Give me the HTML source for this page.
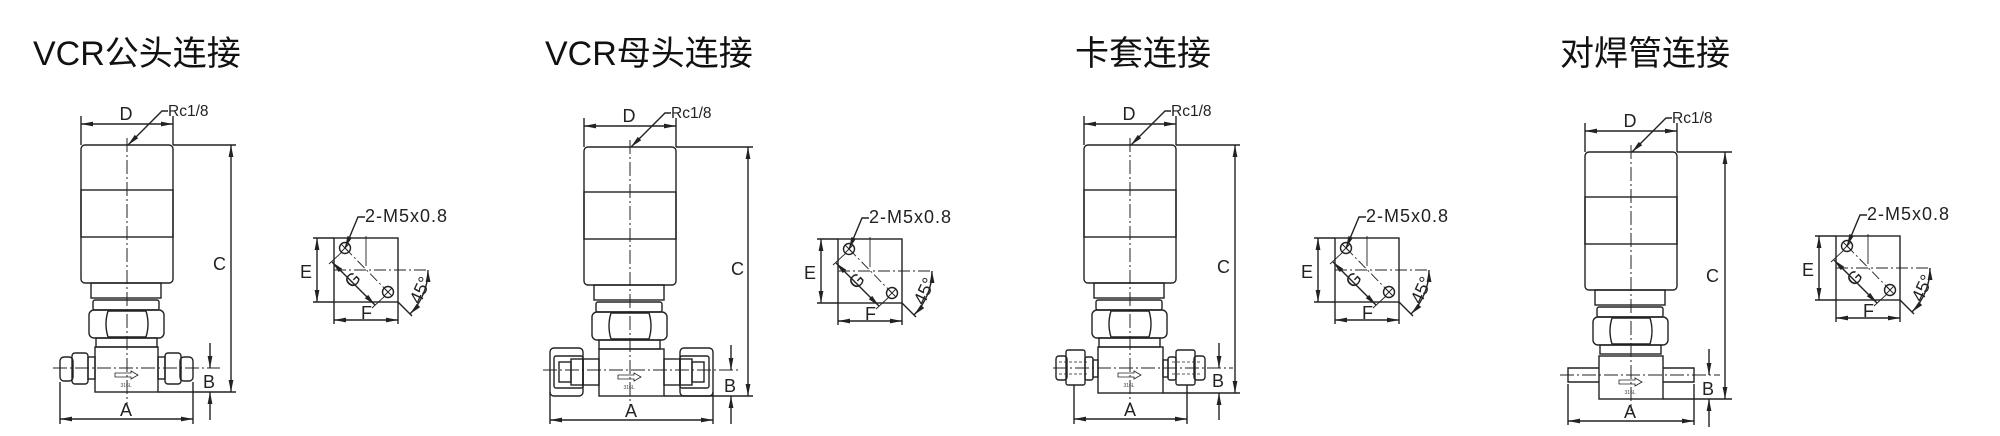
<!DOCTYPE html>
<html><head><meta charset="utf-8"><style>
html,body{margin:0;padding:0;background:#fff;}
svg{display:block;}
.t{font-family:"Liberation Sans","Noto Sans CJK SC",sans-serif;font-size:34px;fill:#111;}
.l{font-family:"Liberation Sans",sans-serif;font-size:18px;fill:#222;}
.m{font-family:"Liberation Sans",sans-serif;font-size:18px;fill:#222;letter-spacing:1px;}
.s{font-family:"Liberation Sans",sans-serif;font-size:15.5px;fill:#222;}
</style></head><body>
<svg width="2000" height="436" viewBox="0 0 2000 436" xmlns="http://www.w3.org/2000/svg">
<defs>
<marker id="ar" viewBox="0 0 12 6" refX="12" refY="3" markerWidth="13" markerHeight="6" markerUnits="userSpaceOnUse" orient="auto-start-reverse"><path d="M0 0.6 L12 3 L0 5.4 z" fill="#222"/></marker>
<g id="valve" fill="none" stroke="#222" stroke-width="1.4">
 <line x1="81" y1="116" x2="81" y2="145"/>
 <line x1="173" y1="116" x2="173" y2="145"/>
 <line x1="81" y1="124" x2="173" y2="124" marker-start="url(#ar)" marker-end="url(#ar)"/>
 <polyline points="128,145 162,111 168,111" marker-start="url(#ar)"/>
 <rect x="81" y="145" width="92" height="138" rx="4"/>
 <rect x="81" y="190" width="92" height="47"/>
 <rect x="91" y="283" width="70" height="15"/>
 <rect x="93" y="300" width="66" height="10" rx="2"/>
 <rect x="89" y="310" width="75" height="28" rx="5"/>
 <path d="M108 311 q-4 13 0 26 M146 311 q4 13 0 26 M108 311 h38 M108 337 h38"/>
 <rect x="96" y="338" width="61" height="9"/>
 <line x1="127" y1="138" x2="127" y2="404" stroke-width="1" stroke-dasharray="14 3 2 3"/>
 <path d="M115 373 h16 v-2 l7 4 l-7 4 v-2 h-16 z" stroke-width="0.8"/>
</g>
<g id="side" fill="none" stroke="#222" stroke-width="1.4">
 <rect x="334" y="238" width="64" height="64"/>
 <line x1="366" y1="236" x2="366" y2="266" stroke-width="0.9"/>
 <line x1="334" y1="270" x2="429" y2="270" stroke-width="0.9" stroke-dasharray="12 3 2 3"/>
 <circle cx="345" cy="248" r="5.5"/><path d="M341 244 l8 8 M349 244 l-8 8" stroke-width="0.9"/>
 <circle cx="388" cy="292" r="5.5"/><path d="M384 288 l8 8 M392 288 l-8 8" stroke-width="0.9"/>
 <line x1="345" y1="248" x2="388" y2="292" stroke-width="0.9" stroke-dasharray="10 3 2 3"/>
 <line x1="342" y1="252" x2="329" y2="264" stroke-width="0.9"/>
 <line x1="385" y1="296" x2="372" y2="308" stroke-width="0.9"/>
 <line x1="332" y1="262" x2="375" y2="305" marker-start="url(#ar)" marker-end="url(#ar)"/>
 <line x1="313" y1="238" x2="334" y2="238"/><line x1="313" y1="302" x2="334" y2="302"/>
 <line x1="317" y1="238" x2="317" y2="302" marker-start="url(#ar)" marker-end="url(#ar)"/>
 <line x1="334" y1="302" x2="334" y2="324"/><line x1="398" y1="302" x2="398" y2="324"/>
 <line x1="334" y1="320" x2="398" y2="320" marker-start="url(#ar)" marker-end="url(#ar)"/>
 <line x1="398" y1="302" x2="412" y2="316"/>
 <path d="M428 270 A62 62 0 0 1 410 314" marker-start="url(#ar)" marker-end="url(#ar)"/>
 <polyline points="345,248 358,217 365,217" marker-start="url(#ar)"/>
</g>
</defs>

<text class="t" x="33" y="65">VCR公头连接</text>
<text class="t" x="545" y="65">VCR母头连接</text>
<text class="t" x="1075" y="65">卡套连接</text>
<text class="t" x="1560" y="65">对焊管连接</text>

<g><use href="#side"/><text class="m" x="365" y="222">2-M5x0.8</text><text class="l" x="300" y="278">E</text><text class="l" x="361" y="319">F</text><text class="l" transform="translate(352,289) rotate(-45)">G</text><text class="l" transform="translate(420,305) rotate(-65)">45°</text></g>
<g transform="translate(504,1)"><use href="#side"/><text class="m" x="365" y="222">2-M5x0.8</text><text class="l" x="300" y="278">E</text><text class="l" x="361" y="319">F</text><text class="l" transform="translate(352,289) rotate(-45)">G</text><text class="l" transform="translate(420,305) rotate(-65)">45°</text></g>
<g transform="translate(1001,0)"><use href="#side"/><text class="m" x="365" y="222">2-M5x0.8</text><text class="l" x="300" y="278">E</text><text class="l" x="361" y="319">F</text><text class="l" transform="translate(352,289) rotate(-45)">G</text><text class="l" transform="translate(420,305) rotate(-65)">45°</text></g>
<g transform="translate(1502,-2)"><use href="#side"/><text class="m" x="365" y="222">2-M5x0.8</text><text class="l" x="300" y="278">E</text><text class="l" x="361" y="319">F</text><text class="l" transform="translate(352,289) rotate(-45)">G</text><text class="l" transform="translate(420,305) rotate(-65)">45°</text></g>

<g>
 <use href="#valve"/>
 <g fill="none" stroke="#222" stroke-width="1.4">
  <rect x="95" y="347" width="63" height="45"/>
  <rect x="60" y="357" width="13" height="24" rx="4"/><rect x="72" y="353" width="16" height="31" rx="3"/><rect x="88" y="357" width="7" height="22"/>
  <rect x="180" y="357" width="13" height="24" rx="4"/><rect x="165" y="353" width="16" height="31" rx="3"/><rect x="158" y="357" width="7" height="22"/>
  <line x1="53" y1="368" x2="220" y2="368" stroke-width="1" stroke-dasharray="14 3 2 3"/>
  <line x1="173" y1="145" x2="236" y2="145"/><line x1="158" y1="392" x2="236" y2="392"/>
  <line x1="231" y1="145" x2="231" y2="392" marker-start="url(#ar)" marker-end="url(#ar)"/>
  <line x1="210" y1="343" x2="210" y2="368" marker-end="url(#ar)"/>
  <line x1="210" y1="420" x2="210" y2="392" marker-end="url(#ar)"/>
  <line x1="60" y1="382" x2="60" y2="424"/><line x1="193" y1="382" x2="193" y2="424"/>
  <line x1="60" y1="419" x2="193" y2="419" marker-start="url(#ar)" marker-end="url(#ar)"/>
 </g>
 <text class="l" x="126" y="120" text-anchor="middle">D</text><text class="s" x="168" y="116">Rc1/8</text>
 <text class="l" x="213" y="270">C</text><text class="l" x="203" y="388">B</text><text class="l" x="120" y="416">A</text>
 <text x="126" y="387" font-size="5" font-family="Liberation Sans" text-anchor="middle" fill="#444">316L</text>
</g>

<g transform="translate(503,2)">
 <use href="#valve"/>
 <g fill="none" stroke="#222" stroke-width="1.4">
  <rect x="96" y="347" width="65" height="47"/>
  <rect x="47" y="346" width="33" height="48" rx="4"/><rect x="51" y="354" width="29" height="32" rx="2"/><rect x="56" y="360" width="12" height="20"/><rect x="68" y="357" width="12" height="26"/><rect x="80" y="357" width="16" height="26"/>
  <rect x="177" y="346" width="33" height="48" rx="4"/><rect x="177" y="354" width="29" height="32" rx="2"/><rect x="189" y="360" width="12" height="20"/><rect x="177" y="357" width="12" height="26"/><rect x="161" y="357" width="16" height="26"/>
  <line x1="40" y1="368" x2="238" y2="368" stroke-width="1" stroke-dasharray="14 3 2 3"/>
  <line x1="173" y1="145" x2="250" y2="145"/><line x1="161" y1="394" x2="250" y2="394"/>
  <line x1="245" y1="145" x2="245" y2="394" marker-start="url(#ar)" marker-end="url(#ar)"/>
  <line x1="228" y1="343" x2="228" y2="368" marker-end="url(#ar)"/>
  <line x1="228" y1="422" x2="228" y2="394" marker-end="url(#ar)"/>
  <line x1="47" y1="390" x2="47" y2="422"/><line x1="210" y1="390" x2="210" y2="422"/>
  <line x1="47" y1="418" x2="210" y2="418" marker-start="url(#ar)" marker-end="url(#ar)"/>
 </g>
 <text class="l" x="126" y="120" text-anchor="middle">D</text><text class="s" x="168" y="116">Rc1/8</text>
 <text class="l" x="228" y="273">C</text><text class="l" x="221" y="390">B</text><text class="l" x="122" y="415">A</text>
 <text x="126" y="387" font-size="5" font-family="Liberation Sans" text-anchor="middle" fill="#444">316L</text>
</g>

<g transform="translate(1003,0)">
 <use href="#valve"/>
 <g fill="none" stroke="#222" stroke-width="1.4">
  <rect x="95" y="347" width="65" height="46"/>
  <rect x="53" y="356" width="11" height="24" rx="3"/><rect x="63" y="350" width="19" height="35" rx="2"/><rect x="82" y="357" width="8" height="23" rx="2"/><rect x="90" y="360" width="5" height="17"/>
  <rect x="191" y="356" width="11" height="24" rx="3"/><rect x="173" y="350" width="19" height="35" rx="2"/><rect x="165" y="357" width="8" height="23" rx="2"/><rect x="160" y="360" width="5" height="17"/>
  <path d="M56 362 h30 M56 374 h30 M169 362 h30 M169 374 h30" stroke-width="0.8" stroke-dasharray="3 2"/>
  <line x1="50" y1="368" x2="230" y2="368" stroke-width="1" stroke-dasharray="14 3 2 3"/>
  <line x1="173" y1="145" x2="237" y2="145"/><line x1="160" y1="393" x2="237" y2="393"/>
  <line x1="232" y1="145" x2="232" y2="393" marker-start="url(#ar)" marker-end="url(#ar)"/>
  <line x1="216" y1="343" x2="216" y2="368" marker-end="url(#ar)"/>
  <line x1="216" y1="420" x2="216" y2="393" marker-end="url(#ar)"/>
  <line x1="71" y1="385" x2="71" y2="424"/><line x1="184" y1="385" x2="184" y2="424"/>
  <line x1="71" y1="419" x2="184" y2="419" marker-start="url(#ar)" marker-end="url(#ar)"/>
 </g>
 <text class="l" x="126" y="120" text-anchor="middle">D</text><text class="s" x="168" y="116">Rc1/8</text>
 <text class="l" x="214" y="273">C</text><text class="l" x="209" y="387">B</text><text class="l" x="121" y="416">A</text>
 <text x="126" y="387" font-size="5" font-family="Liberation Sans" text-anchor="middle" fill="#444">316L</text>
</g>

<g transform="translate(1504,7)">
 <use href="#valve"/>
 <g fill="none" stroke="#222" stroke-width="1.4">
  <rect x="95" y="349" width="64" height="43"/>
  <path d="M95 361 H64 V375 H95 M159 361 H190 V375 H159"/>
  <line x1="56" y1="368" x2="216" y2="368" stroke-width="1" stroke-dasharray="14 3 2 3"/>
  <line x1="173" y1="145" x2="228" y2="145"/><line x1="159" y1="392" x2="228" y2="392"/>
  <line x1="221" y1="145" x2="221" y2="392" marker-start="url(#ar)" marker-end="url(#ar)"/>
  <line x1="205" y1="342" x2="205" y2="368" marker-end="url(#ar)"/>
  <line x1="205" y1="420" x2="205" y2="392" marker-end="url(#ar)"/>
  <line x1="64" y1="377" x2="64" y2="418"/><line x1="190" y1="377" x2="190" y2="418"/>
  <line x1="64" y1="414" x2="190" y2="414" marker-start="url(#ar)" marker-end="url(#ar)"/>
 </g>
 <text class="l" x="126" y="120" text-anchor="middle">D</text><text class="s" x="168" y="116">Rc1/8</text>
 <text class="l" x="202" y="275">C</text><text class="l" x="198" y="388">B</text><text class="l" x="120" y="411">A</text>
 <text x="126" y="387" font-size="5" font-family="Liberation Sans" text-anchor="middle" fill="#444">316L</text>
</g>
</svg>
</body></html>
